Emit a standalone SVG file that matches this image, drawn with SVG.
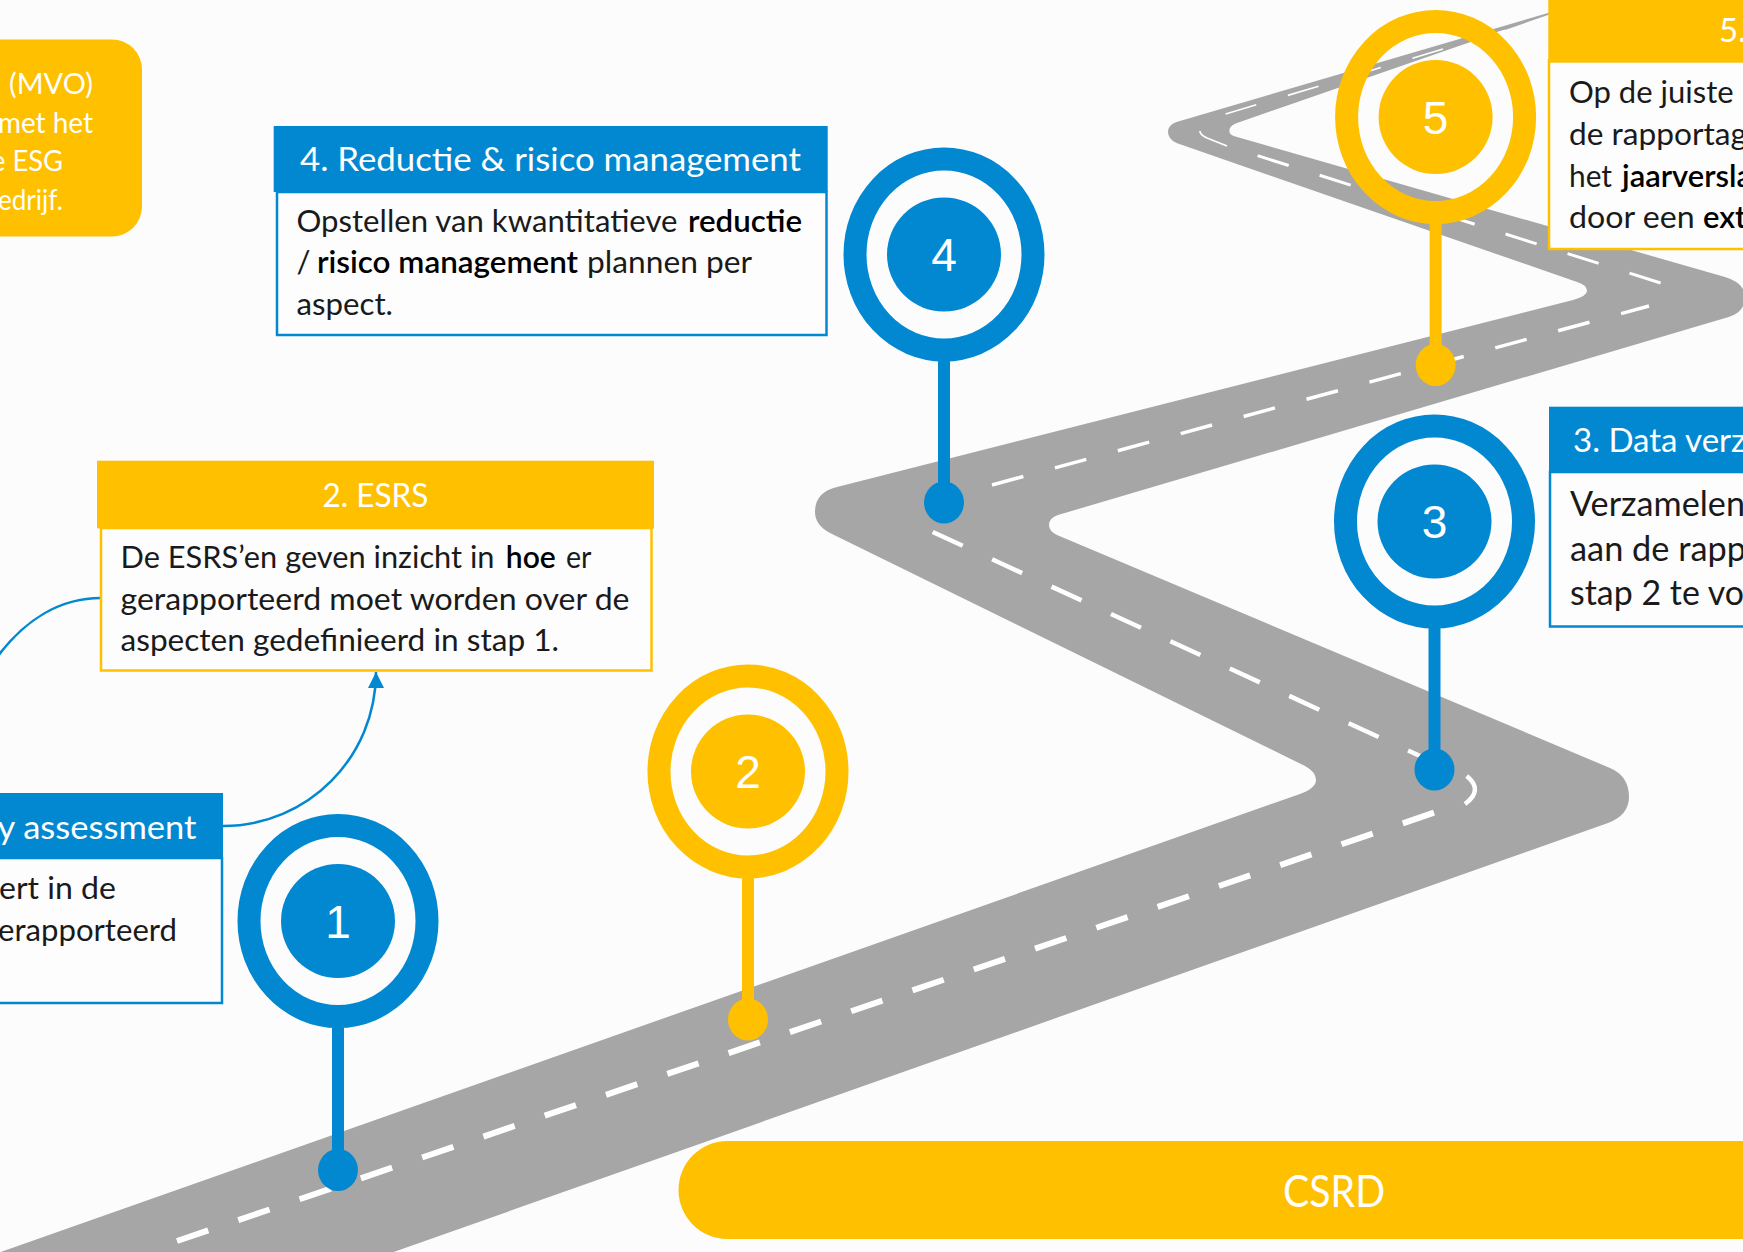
<svg xmlns="http://www.w3.org/2000/svg" width="1743" height="1252" viewBox="0 0 1743 1252">
<style>
text{font-family:"Lato","Liberation Sans",sans-serif}
.b{font-size:31px;font-weight:400;fill:#1a1a1a}
.b3{font-size:34px}
.b .s{font-weight:600;fill:#000}
.t{font-size:33px;font-weight:400;fill:#fff}
.n{font-family:"Liberation Sans",sans-serif;font-size:46px;fill:#fff;text-anchor:middle}
.blue .f{fill:#0288d1}.blue .l{stroke:#0288d1}
.yel .f{fill:#ffc000}.yel .l{stroke:#ffc000}
.ring{fill:none;stroke-width:23}
.body{fill:#fdfdfd;stroke-width:2.5}
.d{fill:none;stroke:#fff}
.c{fill:none;stroke:#0288d1;stroke-width:2.5}
</style>
<defs><marker id="ah" markerUnits="userSpaceOnUse" markerWidth="18" markerHeight="18" refX="16" refY="8" orient="auto"><path d="M0,0L16,8L0,16Z" fill="#0288d1"/></marker></defs>
<rect width="1743" height="1252" fill="#fcfcfc"/>
<g id="road">
<path fill="#a6a6a6" d="M-5,1254L1300,794Q1316,788 1316,780Q1316,772 1305,766L830,533Q815,525 815,512Q815,492 837,487L1573,300Q1587,296 1587,291Q1587,285 1577,282L1176.5,143Q1168,139 1168,132Q1168,125 1176.5,122L1548,13L1560,11L1548,15L1237,123Q1229,126 1229.4,131Q1229,135 1237,137L1725,277Q1745,283 1745,297Q1745,312 1728.7,317L1058,515Q1049,518 1049,525Q1049,531 1057,535L1610,768Q1629,776 1629,797Q1629,815 1608,823L388,1254Z"/>
<path class="d" stroke-width="6" stroke-dasharray="33 31.75" d="M177,1241L1434,812.7"/>
<path class="d" stroke-width="4.5" d="M1466.7,776Q1484,790 1465,804"/>
<path class="d" stroke-width="4.5" stroke-dasharray="33 32.4" d="M932.7,532L1420,756"/>
<path class="d" stroke-width="3.5" stroke-dasharray="32.5 32.7" d="M992,485L1649,306"/>
<path class="d" stroke-width="3" stroke-dasharray="32.6 32.4" d="M1660.6,283L1227,146"/>
<path class="d" stroke-width="1.8" d="M1227,146L1207,138Q1200,135 1200,131"/>
<path class="d" stroke-width="1.6" stroke-dasharray="32 33" d="M1225.6,114L1540,20"/>
</g>
<g id="connectors">
<path class="c" marker-end="url(#ah)" d="M223,826C308,826 376,757 376,672"/>
<path class="c" d="M101,598C60,598 25,620 -2,656"/>
</g>
<g id="box-mvo">
<rect x="-60" y="39.5" width="202" height="197" rx="30" fill="#ffc000"/>
<g font-size="29" fill="#fff" font-weight="400">
<text x="9" y="93.5" textLength="84" lengthAdjust="spacingAndGlyphs">(MVO)</text>
<text x="-2" y="132.7" textLength="95" lengthAdjust="spacingAndGlyphs">met het</text>
<text x="-9" y="170.7" textLength="72" lengthAdjust="spacingAndGlyphs">e ESG</text>
<text x="-2" y="209.5" textLength="65" lengthAdjust="spacingAndGlyphs">edrijf.</text>
</g>
</g>
<g id="box-1" class="blue">
<rect class="body l" x="-10" y="858" width="232" height="145"/>
<rect class="f" x="-10" y="793" width="233" height="65"/>
<text class="t" x="-2.6" y="838.8" textLength="199" lengthAdjust="spacingAndGlyphs">y assessment</text>
<text class="b" x="-1" y="898.5" textLength="117" lengthAdjust="spacingAndGlyphs">ert in de</text>
<text class="b" x="-2" y="940.5" textLength="179" lengthAdjust="spacingAndGlyphs">erapporteerd</text>
</g>
<g id="box-2" class="yel">
<rect class="body l" x="101" y="528" width="550.5" height="142.5"/>
<rect class="f" x="97" y="460.7" width="557" height="67.7"/>
<text class="t" x="322.4" y="507" textLength="106" lengthAdjust="spacingAndGlyphs">2. ESRS</text>
<text class="b" y="568"><tspan x="120.5" textLength="374" lengthAdjust="spacingAndGlyphs">De ESRS’en geven inzicht in</tspan><tspan class="s" x="505.8" textLength="50" lengthAdjust="spacingAndGlyphs">hoe</tspan><tspan x="566" textLength="25.5" lengthAdjust="spacingAndGlyphs">er</tspan></text>
<text class="b" x="120.5" y="609.5" textLength="509" lengthAdjust="spacingAndGlyphs">gerapporteerd moet worden over de</text>
<text class="b" x="120.5" y="650.5" textLength="438.5" lengthAdjust="spacingAndGlyphs">aspecten gedefinieerd in stap 1.</text>
</g>
<g id="box-3" class="blue">
<rect class="body l" x="1550" y="472" width="210" height="154.5"/>
<rect class="f" x="1549" y="406.7" width="210" height="66"/>
<text class="t" x="1573" y="452">3. Data verz</text>
<text class="b b3" x="1570" y="515.5" textLength="175" lengthAdjust="spacingAndGlyphs">Verzamelen</text>
<text class="b b3" x="1570" y="560.5" textLength="176" lengthAdjust="spacingAndGlyphs">aan de rapp</text>
<text class="b b3" x="1570" y="605" textLength="174" lengthAdjust="spacingAndGlyphs">stap 2 te vo</text>
</g>
<g id="box-4" class="blue">
<rect class="body l" x="277" y="192" width="549.5" height="143"/>
<rect class="f" x="273.7" y="126" width="554" height="66"/>
<text class="t" x="300" y="170.7" textLength="501" lengthAdjust="spacingAndGlyphs">4. Reductie &amp; risico management</text>
<text class="b" y="232"><tspan x="296.5" textLength="381" lengthAdjust="spacingAndGlyphs">Opstellen van kwantitatieve</tspan><tspan class="s" x="688" textLength="114" lengthAdjust="spacingAndGlyphs">reductie</tspan></text>
<text class="b" y="273.2"><tspan x="296.5">/</tspan><tspan class="s" x="317" textLength="261" lengthAdjust="spacingAndGlyphs">risico management</tspan><tspan x="587" textLength="165" lengthAdjust="spacingAndGlyphs">plannen per</tspan></text>
<text class="b" x="296.5" y="315" textLength="96.5" lengthAdjust="spacingAndGlyphs">aspect.</text>
</g>
<g id="box-5" class="yel">
<rect class="body l" x="1549" y="60" width="210" height="189"/>
<rect class="f" x="1548.3" y="-5" width="210" height="67.7"/>
<text class="t" x="1719" y="42">5.</text>
<text class="b" x="1569" y="103" textLength="164.6" lengthAdjust="spacingAndGlyphs">Op de juiste</text>
<text class="b" x="1569" y="144.7" textLength="178" lengthAdjust="spacingAndGlyphs">de rapportag</text>
<text class="b" y="186.5"><tspan x="1569" textLength="43" lengthAdjust="spacingAndGlyphs">het</tspan><tspan class="s" x="1622" textLength="130" lengthAdjust="spacingAndGlyphs">jaarversla</tspan></text>
<text class="b" y="228"><tspan x="1569" textLength="125.6" lengthAdjust="spacingAndGlyphs">door een</tspan><tspan class="s" x="1703">ext</tspan></text>
</g>
<g id="pin-1" class="blue" transform="translate(338,921)"><ellipse class="ring l" rx="89" ry="95.5"/><circle class="f" r="57"/><rect class="f" x="-6" y="100" width="12" height="140"/><ellipse class="f" cy="249" rx="20" ry="21"/><text class="n" y="16.5">1</text></g>
<g id="pin-2" class="yel" transform="translate(748,771.5)"><ellipse class="ring l" rx="89" ry="95.5"/><circle class="f" r="57"/><rect class="f" x="-6" y="100" width="12" height="140"/><ellipse class="f" cy="248" rx="20" ry="21"/><text class="n" y="16.5">2</text></g>
<g id="pin-3" class="blue" transform="translate(1434.5,521.5)"><ellipse class="ring l" rx="89" ry="95.5"/><circle class="f" r="57"/><rect class="f" x="-6" y="100" width="12" height="140"/><ellipse class="f" cy="248" rx="20" ry="21"/><text class="n" y="16.5">3</text></g>
<g id="pin-4" class="blue" transform="translate(944,254.5)"><ellipse class="ring l" rx="89" ry="95.5"/><circle class="f" r="57"/><rect class="f" x="-6" y="100" width="12" height="140"/><ellipse class="f" cy="248" rx="20" ry="21"/><text class="n" y="16.5">4</text></g>
<g id="pin-5" class="yel" transform="translate(1435.6,117)"><ellipse class="ring l" rx="89" ry="95.5"/><circle class="f" r="57"/><rect class="f" x="-6" y="100" width="12" height="140"/><ellipse class="f" cy="248" rx="20" ry="21"/><text class="n" y="16.5">5</text></g>
<g id="csrd"><rect x="678.5" y="1141" width="1120" height="98" rx="49" fill="#ffc000"/><text x="1283" y="1207" textLength="102" lengthAdjust="spacingAndGlyphs" font-size="44" font-weight="400" fill="#fff">CSRD</text></g>
</svg>
